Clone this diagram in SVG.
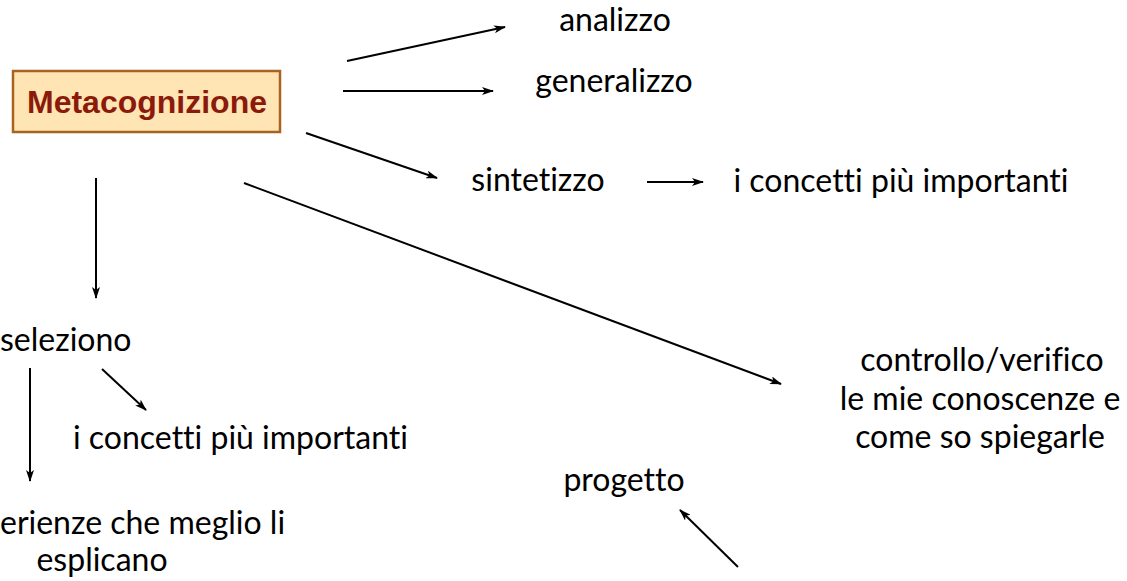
<svg xmlns="http://www.w3.org/2000/svg" width="1127" height="581" viewBox="0 0 1127 581">
<style>
.t{font-family:Lato,"Open Sans","Liberation Sans",sans-serif;font-size:32px;fill:#000;font-variant-ligatures:none}
.c{text-anchor:middle}
.ln{stroke:#000;stroke-width:2;fill:none;marker-end:url(#ah)}
.title{font-family:"Liberation Sans",Arial,sans-serif;font-weight:bold;font-size:32px;fill:#8B1A0A;text-anchor:middle}
</style>
<defs>
<marker id="ah" viewBox="0 0 12 8" refX="11" refY="4" markerWidth="12" markerHeight="8" markerUnits="userSpaceOnUse" orient="auto">
<path d="M0,0 L12,4 L0,8 L3,4 z" fill="#000"/>
</marker>
</defs>
<rect width="1127" height="581" fill="#fff"/>
<g id="connectors">
<line class="ln" x1="347" y1="61" x2="505" y2="27"/>
<line class="ln" x1="343" y1="91" x2="493" y2="91"/>
<line class="ln" x1="306" y1="133" x2="437" y2="178"/>
<line class="ln" x1="647" y1="182" x2="703" y2="182"/>
<line class="ln" x1="244" y1="183" x2="781" y2="384"/>
<line class="ln" x1="96" y1="178" x2="96" y2="298"/>
<line class="ln" x1="30" y1="368" x2="30" y2="481"/>
<line class="ln" x1="102" y1="369" x2="146" y2="410"/>
<line class="ln" x1="738" y1="567" x2="680" y2="510"/>
</g>
<g id="metacognizione">
<rect x="13" y="71" width="267" height="61" fill="#FFE5B4" stroke="#A8641E" stroke-width="2.5"/>
<text class="title" x="147" y="113">Metacognizione</text>
</g>
<g id="analizzo"><text class="t c" x="615" y="31">analizzo</text></g>
<g id="generalizzo"><text class="t c" x="614" y="92">generalizzo</text></g>
<g id="sintetizzo"><text class="t c" x="538" y="191">sintetizzo</text></g>
<g id="concetti1"><text class="t c" x="901" y="192">i concetti più importanti</text></g>
<g id="seleziono"><text class="t" x="0" y="351">seleziono</text></g>
<g id="concetti2"><text class="t" x="73" y="449">i concetti più importanti</text></g>
<g id="esperienze">
<text class="t" x="0" y="534">erienze che meglio li</text>
<text class="t c" x="102" y="571">esplicano</text>
</g>
<g id="controllo">
<text class="t c" x="982" y="371">controllo/verifico</text>
<text class="t c" x="980" y="410">le mie conoscenze e</text>
<text class="t c" x="980" y="448">come so spiegarle</text>
</g>
<g id="progetto"><text class="t c" x="624" y="491">progetto</text></g>
</svg>
